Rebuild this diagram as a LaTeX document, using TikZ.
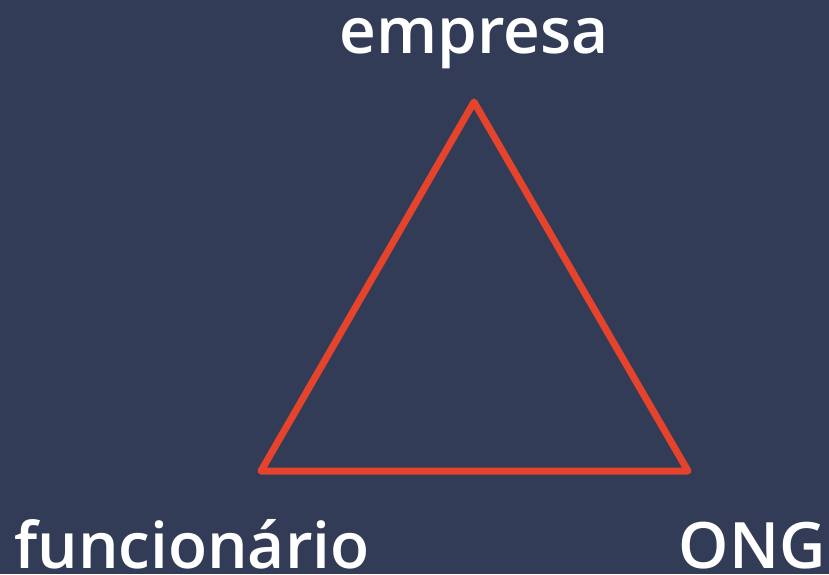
\documentclass[tikz,border=0pt]{standalone}
\usepackage{fontspec}
\setmainfont{Open Sans}
\IfFontExistsTF{Open Sans Semibold}
  {\newfontfamily\semibold{Open Sans Semibold}}
  {\newfontfamily\semibold{Open Sans}[FakeBold=2.2]}
\usetikzlibrary{positioning}
\definecolor{bgnavy}{HTML}{323C57}
\definecolor{edgered}{HTML}{E5432B}

\begin{document}
\begin{tikzpicture}[x=1pt,y=-1pt,
                    side/.style={draw=edgered,line width=7pt,line join=round,line cap=round},
                    role node/.style={text=white,inner sep=0pt,font=\semibold\fontsize{64}{68}\selectfont}
                   ]
  \fill[bgnavy] (0,0) rectangle (829,574);
  \useasboundingbox (0,0) rectangle (829,574);

  \coordinate (top) at (474,102);
  \coordinate (left) at (261,471);
  \coordinate (right) at (688,471);

  \node[role node,anchor=base] (empresa) at (474,53) {empresa};
  \node[role node,anchor=base west] (funcionario) at (14,568) {funcionário};
  \node[role node,anchor=base east] (ong) at (826,568) {ONG};

  \path[side] (top) -- (left) -- (right) -- cycle;
\end{tikzpicture}
\end{document}
